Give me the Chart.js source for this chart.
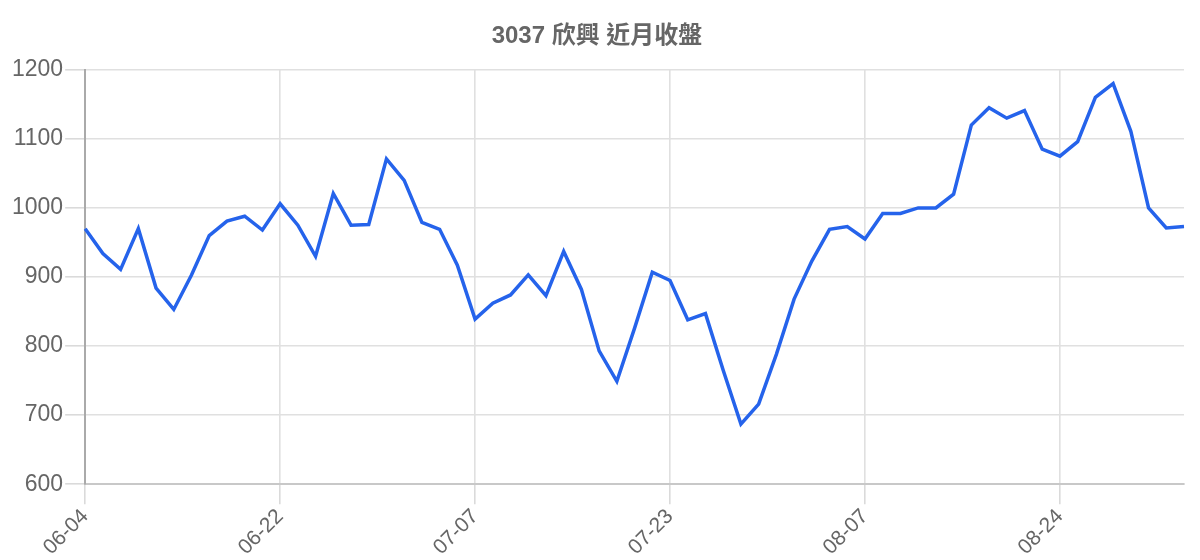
<!DOCTYPE html>
<html>
<head>
<meta charset="utf-8">
<script src="https://cdn.jsdelivr.net/npm/chart.js@4"></script>
<style>
  html, body { margin: 0; padding: 0; background: #fff; }
  #wrap { width: 1200px; height: 560px; }
</style>
</head>
<body>
<div id="wrap"><canvas id="graficoPreco"></canvas></div>
<script>
const titulo = '3037 欣興 近月收盤';

const datas = [
  '06-04', '06-05', '06-06', '06-07', '06-10', '06-11', '06-12', '06-13', '06-14', '06-17', '06-18',
  '06-22', '06-23', '06-24', '06-25', '06-26', '06-27', '06-28', '07-01', '07-02', '07-03', '07-05',
  '07-07', '07-08', '07-09', '07-10', '07-11', '07-14', '07-15', '07-16', '07-17', '07-18', '07-21',
  '07-23', '07-24', '07-25', '07-28', '07-29', '07-30', '07-31', '08-01', '08-04', '08-05', '08-06',
  '08-07', '08-08', '08-11', '08-12', '08-13', '08-14', '08-15', '08-18', '08-19', '08-20', '08-21',
  '08-24', '08-25', '08-26', '08-27', '08-28', '08-29', '09-01', '09-02'
];

const fechamento = [
  970, 934, 911, 970, 884, 853, 903, 960, 981, 988,
  968, 1006, 975, 930, 1021, 975, 976, 1071, 1040, 979,
  969, 917, 839, 862, 874, 903, 873, 937, 882, 793,
  749, 826, 907, 895, 838, 847, 765, 687, 716, 788,
  868, 923, 969, 973, 955, 992, 992, 1000, 1000, 1020,
  1120, 1145, 1130, 1141, 1085, 1075, 1096, 1160, 1180, 1111,
  1000, 971, 973
];

// so mostra uma data a cada 11 pregoes
const passoRotulo = 11;
const eixoY = { min: 600, max: 1200, passo: 100 };

const fonte = "'Liberation Sans', Arial, sans-serif";

const grafico = new Chart(document.getElementById('graficoPreco'), {
  type: 'line',
  data: {
    labels: datas,
    datasets: [{
      label: titulo,
      data: fechamento,
      borderColor: '#2563eb',
      backgroundColor: '#2563eb',
      borderWidth: 3.5,
      pointRadius: 0,
      pointHoverRadius: 0,
      tension: 0,
      fill: false
    }]
  },
  options: {
    responsive: true,
    maintainAspectRatio: false,
    animation: false,
    layout: { padding: { left: 10, right: 16, top: 12, bottom: 0 } },
    plugins: {
      legend: { display: false },
      tooltip: { enabled: false },
      title: {
        display: true,
        text: titulo,
        color: '#666',
        font: { size: 24, weight: 'bold', family: fonte + ", 'Noto Sans CJK TC'" },
        padding: { top: 10, bottom: 19 }
      }
    },
    scales: {
      x: {
        grid: { color: '#e0e0e0', lineWidth: 1.6, tickLength: 20, tickColor: '#dadada' },
        border: { color: '#c8c8c8', width: 2 },
        ticks: {
          autoSkip: false,
          maxRotation: 45,
          minRotation: 45,
          padding: 0,
          color: '#666',
          font: { size: 21, family: fonte },
          callback: function (valor, i) {
            return i % passoRotulo === 0 ? this.getLabelForValue(valor) : null;
          }
        }
      },
      y: {
        min: eixoY.min,
        max: eixoY.max,
        grid: { color: '#e0e0e0', lineWidth: 1.6, tickLength: 20, tickColor: '#dadada' },
        border: { color: '#aaa', width: 2 },
        ticks: {
          stepSize: eixoY.passo,
          padding: 2,
          color: '#666',
          font: { size: 23, family: fonte },
          callback: valor => String(valor)
        }
      }
    }
  }
});
</script>
</body>
</html>
